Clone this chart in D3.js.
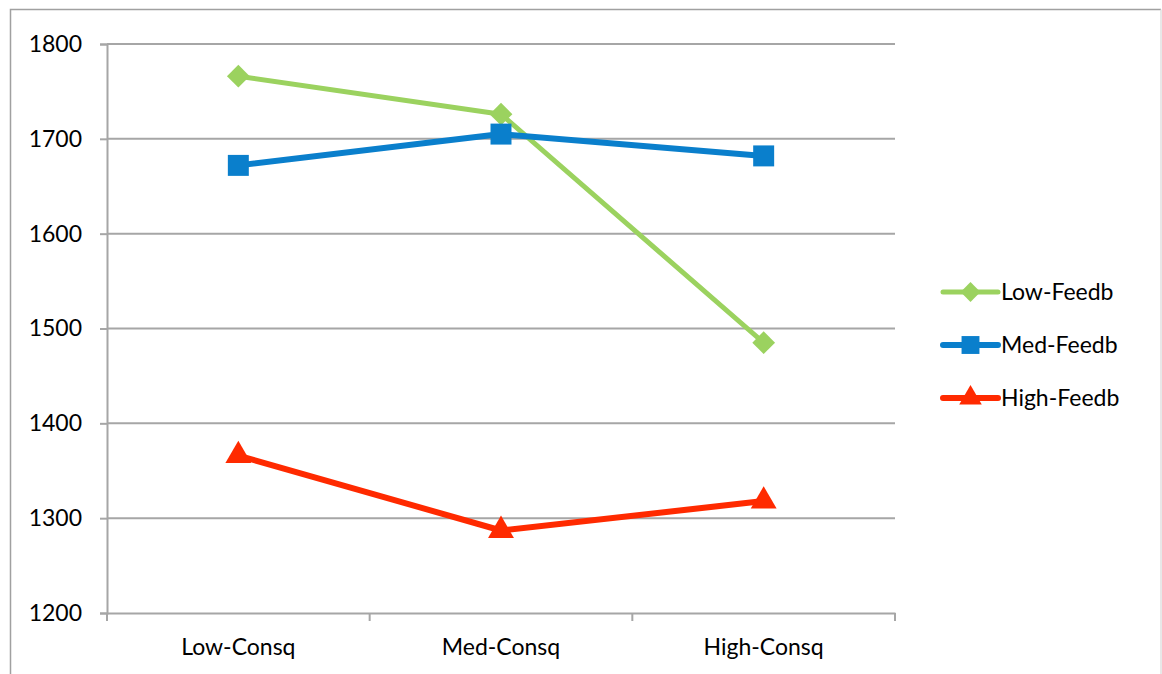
<!DOCTYPE html>
<html>
<head>
<meta charset="utf-8">
<script src="https://cdn.jsdelivr.net/npm/d3@7"></script>
<style>
  html, body { margin: 0; padding: 0; background: #fff; }
  svg { display: block; }
  text { font-family: Lato, "Open Sans", sans-serif; fill: #000; }
</style>
</head>
<body>
<svg id="chart" width="1162" height="674"></svg>
<script>
// Categories along the x axis
const categories = ["Low-Consq", "Med-Consq", "High-Consq"];

// One value per category for each feedback level
const lowFeedb  = [1766, 1726, 1485];
const medFeedb  = [1672, 1705, 1682];
const highFeedb = [1366, 1287, 1318];

const seriesNames = ["Low-Feedb", "Med-Feedb", "High-Feedb"];
const yTicks = [1200, 1300, 1400, 1500, 1600, 1700, 1800];

const seriesValues = [lowFeedb, medFeedb, highFeedb];
const colors = ["#9BD25F", "#0A7FCC", "#FF2A00"];
const symbols = [d3.symbolDiamond2, d3.symbolSquare, d3.symbolTriangle];
const lineWidths = [5, 6, 6];
const fontSize = 23;

const svg = d3.select("#chart");

// chart frame
svg.append("path")
  .attr("d", "M10.5,674 V9.5 H1161")
  .attr("fill", "none").attr("stroke", "#a0a0a0").attr("stroke-width", 1.5);
svg.append("line")
  .attr("x1", 1161).attr("x2", 1161).attr("y1", 9.5).attr("y2", 674)
  .attr("stroke", "#e0e0e0").attr("stroke-width", 1.5);

const x = d3.scaleBand().domain(categories).range([107, 895]);
const y = d3.scaleLinear().domain([1200, 1800]).range([613, 44]);
const cx = c => x(c) + x.bandwidth() / 2;

// horizontal gridlines
svg.append("g").selectAll("line")
  .data(yTicks.slice(1))
  .join("line")
  .attr("x1", x.range()[0]).attr("x2", x.range()[1])
  .attr("y1", d => y(d)).attr("y2", d => y(d))
  .attr("stroke", "#a6a6a6").attr("stroke-width", 2);

// y axis
const yAxis = svg.append("g")
  .attr("transform", `translate(${x.range()[0]},0)`)
  .call(d3.axisLeft(y).tickValues(yTicks).tickSize(7).tickPadding(18).tickFormat(d3.format("d")));
yAxis.selectAll("line, path").attr("stroke", "#a6a6a6").attr("stroke-width", 2);
yAxis.selectAll("text").attr("font-size", fontSize).style("font-family", "Lato, sans-serif").attr("fill", "#000");

// x axis: ticks on category boundaries, labels centred in bands
const xAxis = svg.append("g")
  .attr("transform", `translate(0,${y.range()[0]})`)
  .call(d3.axisBottom(x).tickSize(0).tickPadding(26));
xAxis.select("path").attr("stroke", "#a6a6a6").attr("stroke-width", 2);
xAxis.selectAll("text").attr("font-size", fontSize).style("font-family", "Lato, sans-serif").attr("fill", "#000");
const boundaries = categories.map(c => x(c)).concat([x.range()[1]]);
xAxis.selectAll("line.bound")
  .data(boundaries)
  .join("line")
  .attr("class", "bound")
  .attr("x1", d => d).attr("x2", d => d)
  .attr("y1", 0).attr("y2", 8)
  .attr("stroke", "#a6a6a6").attr("stroke-width", 2);

// series lines and markers
const line = d3.line().x((d, i) => cx(categories[i])).y(d => y(d));

seriesValues.forEach((vals, s) => {
  const g = svg.append("g");
  g.append("path")
    .datum(vals)
    .attr("d", line)
    .attr("fill", "none")
    .attr("stroke", colors[s])
    .attr("stroke-width", lineWidths[s])
    .attr("stroke-linejoin", "round");
  g.selectAll("path.mark")
    .data(vals)
    .join("path")
    .attr("class", "mark")
    .attr("transform", (d, i) => `translate(${cx(categories[i])},${y(d)})`)
    .attr("d", d3.symbol().type(symbols[s]).size(s === 0 ? 330 : s === 1 ? 440 : 290))
    .attr("fill", colors[s]);
});

// legend
const legend = svg.append("g");
seriesNames.forEach((name, s) => {
  const ly = 292 + s * 53;
  legend.append("line")
    .attr("x1", 943).attr("x2", 998).attr("y1", ly).attr("y2", ly)
    .attr("stroke", colors[s]).attr("stroke-width", lineWidths[s])
    .attr("stroke-linecap", "round");
  legend.append("path")
    .attr("transform", `translate(970.5,${ly})`)
    .attr("d", d3.symbol().type(symbols[s]).size(s === 0 ? 250 : s === 1 ? 320 : 220))
    .attr("fill", colors[s]);
  legend.append("text")
    .attr("x", 1001).attr("y", ly)
    .attr("dy", "0.35em")
    .attr("font-size", fontSize)
    .text(name);
});
</script>
</body>
</html>
